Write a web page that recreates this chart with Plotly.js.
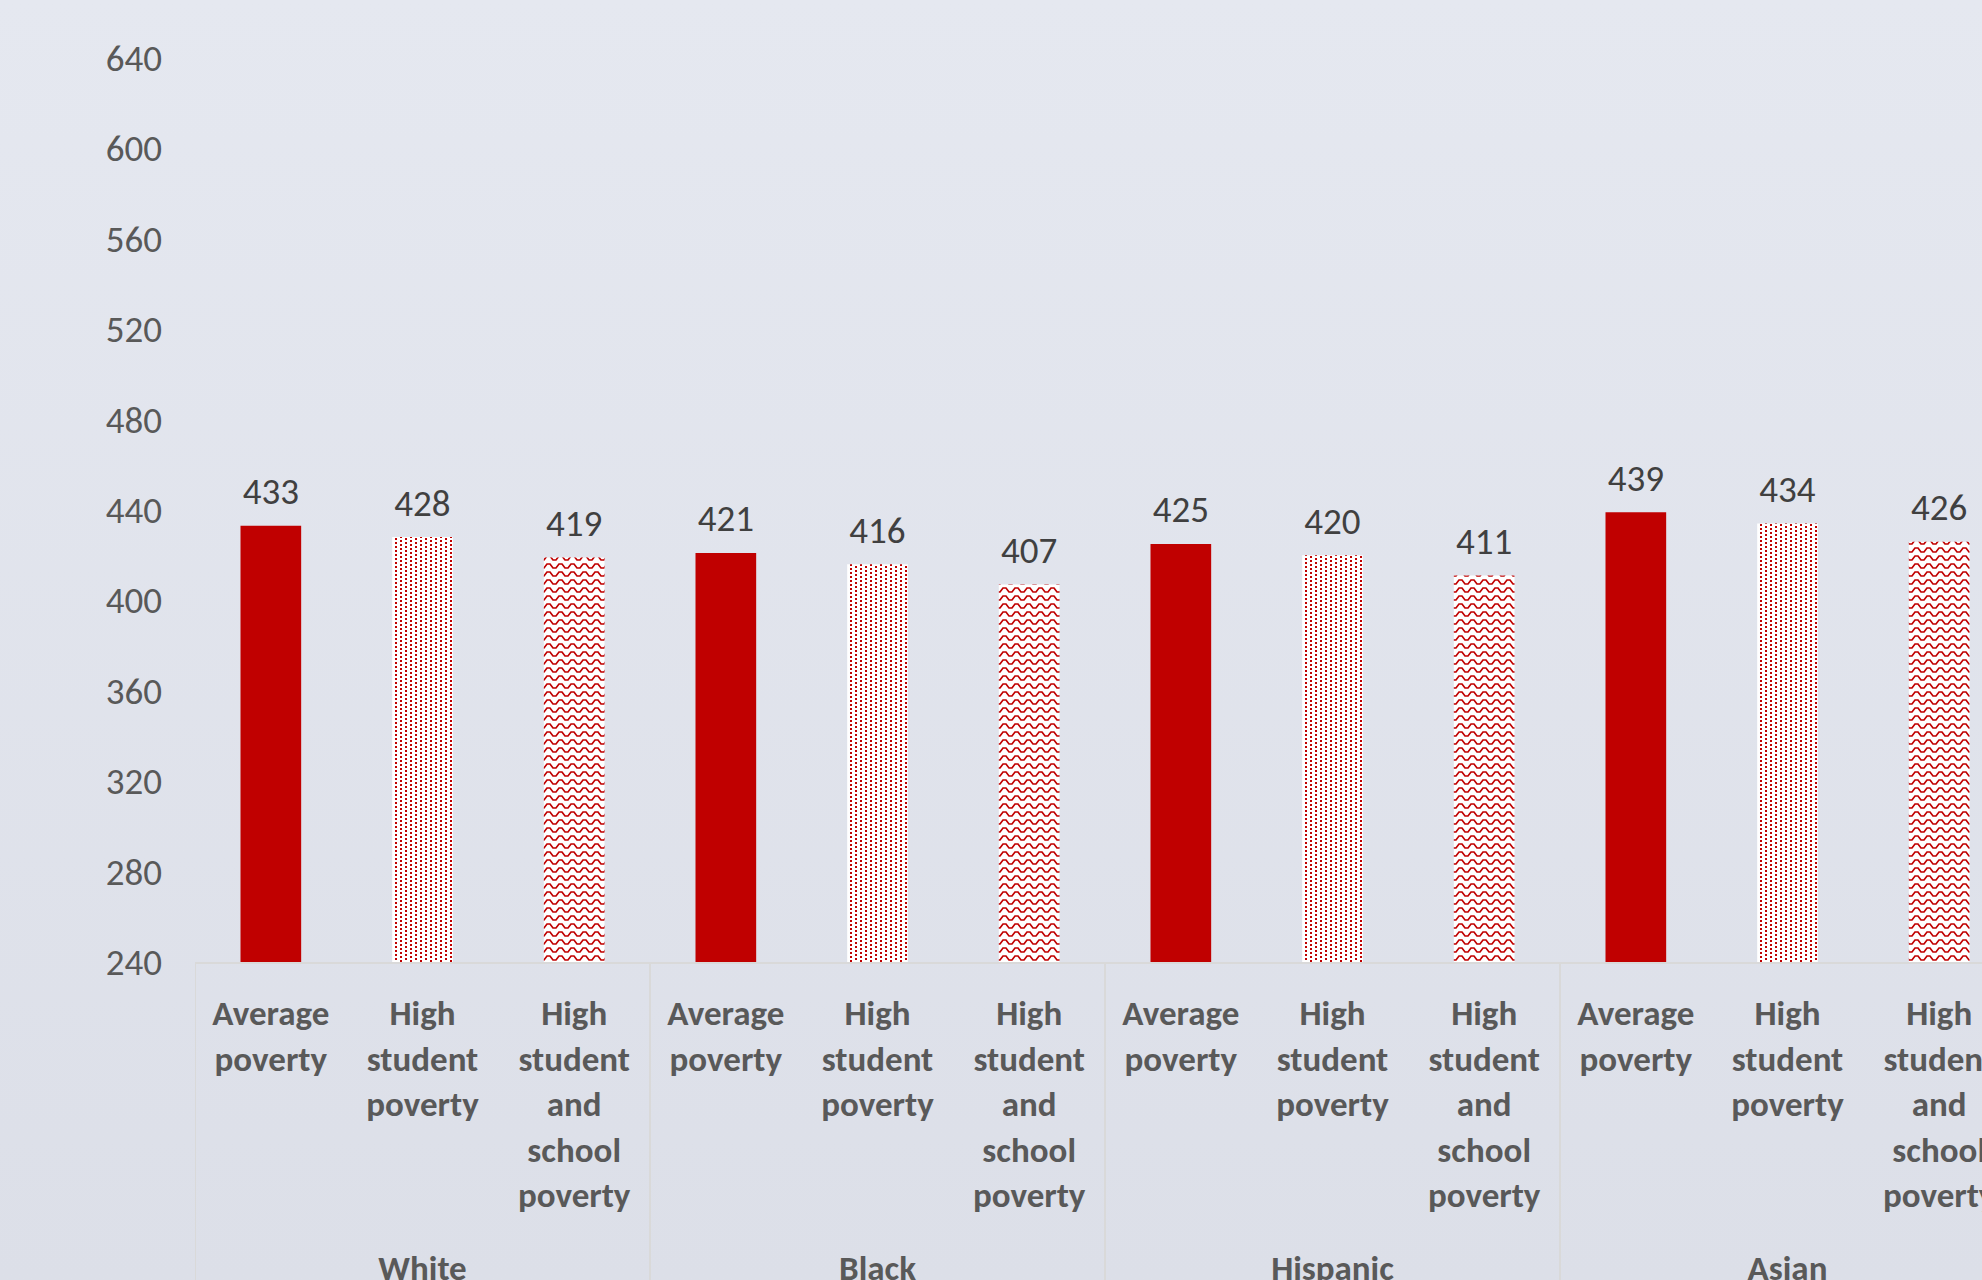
<!DOCTYPE html>
<html><head><meta charset="utf-8">
<script src="https://cdn.plot.ly/plotly-3.0.1.min.js"></script>
<style>
html,body{margin:0;padding:0;overflow:hidden;width:1982px;height:1280px;background:linear-gradient(180deg,#e5e8f0 0%,#dcdfe8 100%);}
#chart{width:2040px;height:1330px;}
</style>
</head><body><div id="chart"></div><script>
const groups = ["White", "Black", "Hispanic", "Asian"];
const levels = ["Average<br>poverty", "High<br>student<br>poverty", "High<br>student<br>and<br>school<br>poverty"];
const averagePoverty = [433, 421, 425, 439];
const highStudentPoverty = [428, 416, 420, 434];
const highStudentSchoolPoverty = [419, 407, 411, 426];
const yTicks = [240, 280, 320, 360, 400, 440, 480, 520, 560, 600, 640];

const seriesValues = [averagePoverty, highStudentPoverty, highStudentSchoolPoverty];
const outer = [], inner = [], vals = [], kinds = [];
groups.forEach((g, gi) => {
  levels.forEach((l, li) => {
    outer.push(g); inner.push(l); vals.push(seriesValues[li][gi]); kinds.push(li);
  });
});

const RED = '#c00000';
const FONT = 'Carlito, Calibri, Lato, sans-serif';

const bars = {
  type: 'bar',
  x: [outer, inner],
  y: vals,
  marker: {
    color: kinds.map(k => k === 0 ? RED : '#ffffff'),
    line: {width: 0},
    pattern: {
      shape: kinds.map(k => k === 0 ? '' : (k === 1 ? '.' : 'x')),
      fgcolor: RED,
      bgcolor: '#ffffff',
      size: 8,
      solidity: 0.3
    }
  },
  hoverinfo: 'skip',
  showlegend: false
};

const labels = {
  type: 'scatter',
  mode: 'markers+text',
  x: [outer, inner],
  y: vals,
  text: vals.map(String),
  textposition: 'top center',
  textfont: {family: FONT, size: 37, color: '#404040'},
  marker: {size: 18, color: 'rgba(0,0,0,0)', opacity: 0, line: {width: 0}},
  hoverinfo: 'skip',
  showlegend: false,
  cliponaxis: false
};

const nCats = groups.length * levels.length;
// group boundaries on the category axis (index space)
const groupEdges = [];
for (let i = 0; i <= groups.length; i++) groupEdges.push(i * levels.length - 0.5);

const layout = {
  width: 2040,
  height: 1330,
  margin: {l: 195, r: 25, t: 58, b: 368},
  paper_bgcolor: 'rgba(0,0,0,0)',
  plot_bgcolor: 'rgba(0,0,0,0)',
  font: {family: FONT, color: '#595959'},
  bargap: 0.6,
  showlegend: false,
  xaxis: {
    type: 'multicategory',
    automargin: false,
    range: [-0.5, nCats - 0.5],
    showline: true,
    linecolor: '#d9d9d9',
    linewidth: 2,
    showdividers: false,
    showgrid: false,
    ticks: '',
    ticklabelstandoff: 19,
    tickfont: {family: FONT, size: 35, color: '#595959', weight: 'bold'}
  },
  yaxis: {
    automargin: false,
    range: [240, 640],
    tickvals: yTicks,
    ticktext: yTicks.map(String),
    showgrid: false,
    zeroline: false,
    showline: false,
    ticks: '',
    ticklabelstandoff: 32,
    tickfont: {family: FONT, size: 37, color: '#595959'}
  },
  shapes: groupEdges.map(e => ({
    type: 'line', xref: 'x', yref: 'paper',
    x0: e, x1: e, y0: 0, y1: -0.5,
    line: {color: '#d9d9d9', width: 2},
    layer: 'below'
  }))
};

const gd = document.getElementById('chart');
Plotly.newPlot(gd, [bars, labels], layout, {staticPlot: true, displayModeBar: false}).then(() => {
  const NS = 'http://www.w3.org/2000/svg';
  const mk = (tag, attrs) => {
    const e = document.createElementNS(NS, tag);
    Object.keys(attrs).forEach(k => e.setAttribute(k, attrs[k]));
    return e;
  };
  // custom fill patterns (dots and zigzag) like the original
  const paths = gd.querySelectorAll('.barlayer .point path');
  paths.forEach((p, i) => {
    const kind = kinds[i];
    if (kind === 0) return;
    const fill = p.style.fill || p.getAttribute('fill') || '';
    const m = fill.match(/url\(["']?#([^"')]+)/);
    if (!m) return;
    const pat = document.getElementById(m[1]);
    if (!pat) return;
    while (pat.firstChild) pat.removeChild(pat.firstChild);
    pat.removeAttribute('patternTransform');
    pat.setAttribute('patternUnits', 'userSpaceOnUse');
    if (kind === 1) {
      pat.setAttribute('width', 10); pat.setAttribute('height', 8);
      pat.appendChild(mk('rect', {x: 0, y: 0, width: 10, height: 8, fill: '#ffffff'}));
      [[0,0],[0,4],[5,2],[5,6]].forEach(([x, y]) => {
        pat.appendChild(mk('rect', {x: x, y: y, width: 2, height: 2, fill: RED}));
      });
    } else {
      pat.setAttribute('width', 12); pat.setAttribute('height', 8);
      pat.appendChild(mk('rect', {x: 0, y: 0, width: 12, height: 8, fill: '#ffffff'}));
      pat.appendChild(mk('path', {d: 'M-2,6 L1,6 L4,2 L7,2 L10,6 L14,6', stroke: RED, 'stroke-width': 1.7, fill: 'none'}));
    }
  });
  // push the group labels (White, Black, ...) further below the category labels
  gd.querySelectorAll('g.xtick2').forEach(g => {
    const t = g.getAttribute('transform') || '';
    g.setAttribute('transform', t + ' translate(0,48)');
  });
});
</script></body></html>
